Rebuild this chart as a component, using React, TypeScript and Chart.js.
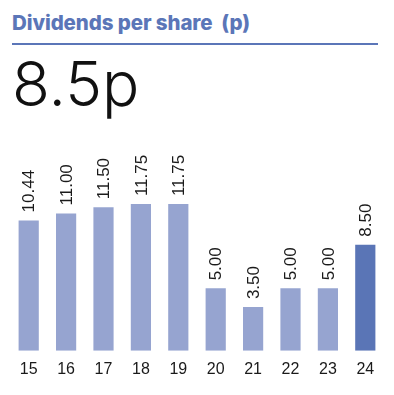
import React, { useEffect, useRef } from "react";
import { Chart, registerables } from "chart.js";

Chart.register(...registerables);

const years = ["15", "16", "17", "18", "19", "20", "21", "22", "23", "24"];
const dividends = [10.44, 11.0, 11.5, 11.75, 11.75, 5.0, 3.5, 5.0, 5.0, 8.5];
const valueLabels = ["10.44", "11.00", "11.50", "11.75", "11.75", "5.00", "3.50", "5.00", "5.00", "8.50"];
const headline = "8.5p";
const title = "Dividends per share\u00a0\u00a0(p)";

const LIGHT = "#96a4d0";
const DARK = "#5a75b6";
const BLUE = "#5b76b8";
const LABEL_FONT = "'Liberation Sans', Arial, sans-serif";

const barLabelPlugin = {
  id: "barLabels",
  afterDatasetsDraw(chart: any) {
    const ctx = chart.ctx;
    const meta = chart.getDatasetMeta(0);
    ctx.save();
    ctx.fillStyle = "#1a1a1a";
    ctx.font = "400 17px " + LABEL_FONT;
    ctx.textAlign = "left";
    ctx.textBaseline = "middle";
    meta.data.forEach((bar: any, i: number) => {
      ctx.save();
      ctx.translate(bar.x + 1, bar.y - 8);
      ctx.rotate(-Math.PI / 2);
      ctx.fillText(valueLabels[i], 0, 0);
      ctx.restore();
    });
    ctx.restore();
  },
};

export default function App() {
  const ref = useRef<HTMLCanvasElement | null>(null);
  useEffect(() => {
    if (!ref.current) return;
    const chart = new Chart(ref.current, {
      type: "bar",
      data: {
        labels: years,
        datasets: [
          {
            data: dividends,
            backgroundColor: dividends.map((_, i) => (i === dividends.length - 1 ? DARK : LIGHT)),
            borderWidth: 0,
            barPercentage: 0.54,
            categoryPercentage: 1,
          },
        ],
      },
      options: {
        animation: false,
        responsive: false,
        devicePixelRatio: 1,
        layout: { padding: { left: 10, right: 10, top: 36, bottom: 7 } },
        plugins: { legend: { display: false }, tooltip: { enabled: false } },
        scales: {
          x: {
            grid: { display: false, drawTicks: false },
            border: { display: false },
            ticks: {
              color: "#1a1a1a",
              padding: 9,
              font: { family: LABEL_FONT, size: 16, weight: "400" as any },
            },
          },
          y: { display: false, min: 0, max: 14 },
        },
      },
      plugins: [barLabelPlugin],
    });
    return () => chart.destroy();
  }, []);

  return (
    <div style={{ position: "fixed", left: 0, top: 0, width: 394, height: 395, background: "#fff", overflow: "hidden" }}>
      <div
        style={{
          position: "absolute",
          left: 12,
          top: 10,
          fontFamily: "Inter, 'Liberation Sans', sans-serif",
          fontWeight: 800,
          fontSize: 20.5,
          color: BLUE,
          letterSpacing: -0.1,
          whiteSpace: "nowrap",
          lineHeight: "26px",
        }}
      >
        {title}
      </div>
      <div style={{ position: "absolute", left: 12, top: 43, width: 366, height: 2, background: BLUE }} />
      <div
        style={{
          position: "absolute",
          left: 12,
          top: 46,
          fontFamily: "Inter, 'Liberation Sans', sans-serif",
          fontWeight: 300,
          fontSize: 62,
          color: "#111",
          lineHeight: "76px",
          whiteSpace: "nowrap",
        }}
      >
        {headline}
      </div>
      <canvas ref={ref} width={394} height={255} style={{ position: "absolute", left: 0, top: 140, width: 394, height: 255 }} />
    </div>
  );
}
